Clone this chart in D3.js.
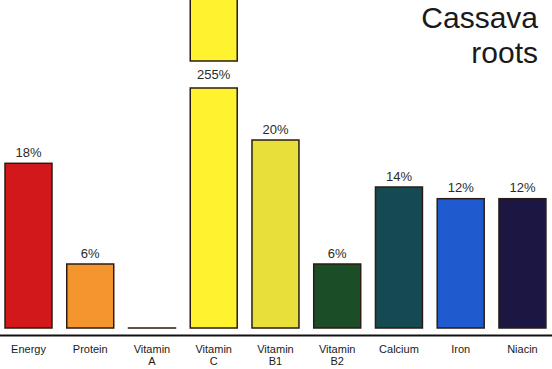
<!DOCTYPE html>
<html><head><meta charset="utf-8">
<script src="https://cdn.jsdelivr.net/npm/d3@7"></script>
<style>html,body{margin:0;padding:0;background:#fff;}svg{display:block;}</style>
</head><body>
<script>
const categories = ["Energy","Protein","Vitamin\nA","Vitamin\nC","Vitamin\nB1","Vitamin\nB2","Calcium","Iron","Niacin"];
const values = [18, 6, 0, 255, 20, 6, 14, 12, 12];
const colors = ["#d3181b","#f4962d","#3a2a2a","#fff22e","#e9df3b","#1b4e27","#164a52","#1f5bcf","#1b1742"];
const title = ["Cassava","roots"];

const W = 552, H = 369;
const baseY = 328;
const svg = d3.select("body").append("svg").attr("width", W).attr("height", H);

const x = d3.scaleBand().domain(categories).range([-2.4, 553.35]).paddingInner(0.239).paddingOuter(0.12);
// hand-drawn original: polylinear scale through the drawn heights
const y = d3.scaleLinear().domain([0, 6, 12, 14, 18, 20, 25]).range([baseY, 264, 198.7, 187, 163.3, 140, 88]).clamp(true);
const breakCap = 25;       // values above this are drawn with a break
const upperBottom = 61;    // bottom of the upper piece of a broken bar

const data = categories.map((c, i) => ({c, v: values[i], col: colors[i]}));

const g = svg.append("g");
g.selectAll("rect.bar").data(data).join("rect")
  .attr("class","bar")
  .attr("x", d => x(d.c))
  .attr("width", x.bandwidth())
  .attr("y", d => y(d.v))
  .attr("height", d => Math.max(0.01, baseY - y(d.v)))
  .attr("fill", d => d.col)
  .attr("stroke", "#2a1c14")
  .attr("stroke-width", 1.5);

// upper piece for broken bars
g.selectAll("rect.upper").data(data.filter(d => d.v > breakCap)).join("rect")
  .attr("class","upper")
  .attr("x", d => x(d.c))
  .attr("width", x.bandwidth())
  .attr("y", -5)
  .attr("height", upperBottom + 5)
  .attr("fill", d => d.col)
  .attr("stroke", "#2a1c14")
  .attr("stroke-width", 1.5);

// value labels
g.selectAll("text.val").data(data.filter(d => d.v > 0)).join("text")
  .attr("class","val")
  .attr("x", d => x(d.c) + x.bandwidth()/2)
  .attr("y", d => d.v > breakCap ? (upperBottom + y(breakCap))/2 + 4.5 : y(d.v) - 6.5)
  .attr("text-anchor","middle")
  .attr("font-family","'Liberation Sans', Arial, sans-serif")
  .attr("font-size", 13)
  .attr("fill","#2a2a2a")
  .text(d => d.v + "%");

// baseline axis
const axisG = svg.append("g").attr("transform", `translate(0,${335.5})`);
const axis = d3.axisBottom(x).tickSize(0).tickFormat("");
axisG.call(axis);
axisG.select(".domain").attr("d", `M0,0H${W}`).attr("stroke","#111").attr("stroke-width",2);

// category labels
const lab = svg.append("g").selectAll("text.cat").data(categories).join("text")
  .attr("class","cat")
  .attr("x", d => x(d) + x.bandwidth()/2)
  .attr("y", 353)
  .attr("text-anchor","middle")
  .attr("font-family","'Liberation Sans', Arial, sans-serif")
  .attr("font-size", 11)
  .attr("fill","#1a1a1a");
lab.each(function(d){
  const parts = d.split("\n");
  d3.select(this).selectAll("tspan").data(parts).join("tspan")
    .attr("x", x(d) + x.bandwidth()/2)
    .attr("dy", (p, i) => i === 0 ? 0 : 11.5)
    .text(p => p);
});

// title
svg.append("g").selectAll("text.title").data(title).join("text")
  .attr("x", 538)
  .attr("y", (d, i) => 28 + i * 35)
  .attr("text-anchor","end")
  .attr("font-family","'Liberation Sans', Arial, sans-serif")
  .attr("font-size", 30)
  .attr("fill","#1a1a1a")
  .text(d => d);
</script>
</body></html>
